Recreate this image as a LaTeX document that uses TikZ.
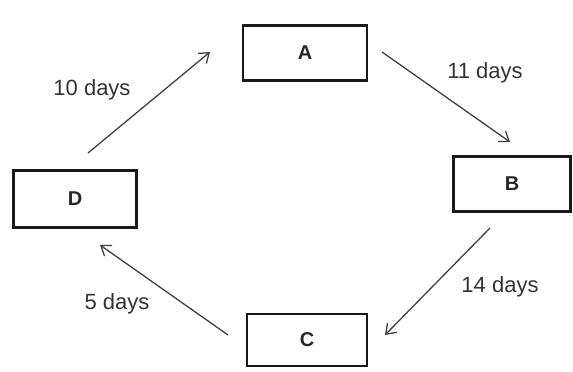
\documentclass[tikz,border=0pt]{standalone}
\usepackage{fontspec}
\setmainfont{Liberation Sans}
\usetikzlibrary{positioning}
\usetikzlibrary{arrows.meta}

\begin{document}
\begin{tikzpicture}[x=1pt,y=-1pt,
  stage/.style={draw=black!90,line width=2.6pt,inner sep=0pt,font=\fontsize{20}{23}\selectfont\bfseries,text=black!85},
  flow/.style={draw=black!75,line width=1.3pt,-{Straight Barb[length=9pt,width=13pt,line width=1.3pt]}},
  days/.style={font=\fontsize{22}{25}\selectfont,text=black!80,inner sep=0pt}]
\useasboundingbox (0,0) rectangle (573,372);

\node[stage,minimum width=124pt,minimum height=55pt] (a) at (305,53) {A};
\node[stage,minimum width=117pt,minimum height=55pt] (b) at (512,184) {B};
\node[stage,minimum width=120pt,minimum height=52pt] (c) at (307,340) {C};
\node[stage,minimum width=123pt,minimum height=57pt] (d) at (75,199) {D};

\coordinate (d1) at (88,153);
\coordinate (a1) at (210,52);
\coordinate (a2) at (382,52);
\coordinate (b1) at (510,142);
\coordinate (b2) at (490,228);
\coordinate (c1) at (385,335);
\coordinate (c2) at (228,335);
\coordinate (d2) at (100,245);

\draw[flow] (d1) -- (a1);
\draw[flow] (a2) -- (b1);
\draw[flow] (b2) -- (c1);
\draw[flow] (c2) -- (d2);

\node[days] (da) at (92,90) {10 days};
\node[days] (ab) at (485,73) {11 days};
\node[days] (bc) at (500,287) {14 days};
\node[days] (cd) at (117,304) {5 days};
\end{tikzpicture}
\end{document}
